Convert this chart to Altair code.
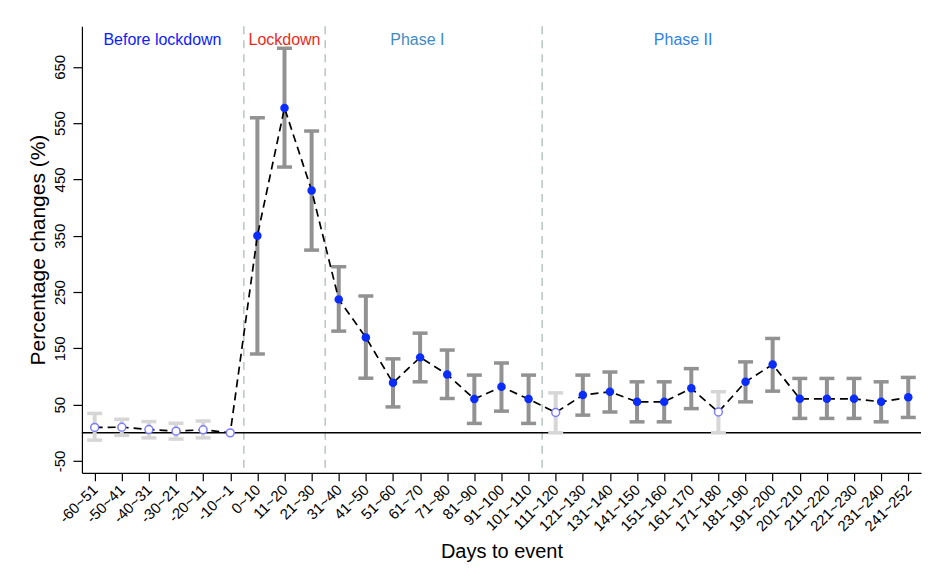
import json
import altair as alt
import pandas as pd

labels = ["-60~51", "-50~41", "-40~31", "-30~21", "-20~11", "-10~-1",
          "0~10", "11~20", "21~30", "31~40", "41~50", "51~60", "61~70",
          "71~80", "81~90", "91~100", "101~110", "111~120", "121~130",
          "131~140", "141~150", "151~160", "161~170", "171~180", "181~190",
          "191~200", "201~210", "211~220", "221~230", "231~240", "241~252"]
est = [9.6, 10, 6, 3, 5.4, 0,
       350, 577, 430.5,
       237, 169.4, 88.8, 134, 103.7, 60, 81.7, 60, 36,
       67, 73, 55, 55, 79, 37, 90.6, 121.5, 60.4, 60.4, 60.4, 55, 63]
lo = [-13, -4.6, -9, -11, -9, None,
      140, 472, 324.5,
      180.6, 97, 46, 90.6, 61, 16.7, 38.5, 16.7, 0,
      31.4, 37, 19.5, 19.5, 43, 0, 55, 74, 25.6, 25.6, 25.6, 19.5, 27.3]
hi = [34.4, 24, 20, 17, 21, None,
      559.5, 683, 536,
      295, 243, 131.4, 177, 147, 102.5, 124, 102.5, 71,
      102.5, 108, 90.6, 90.6, 114, 73, 126, 167.6, 96.6, 96.6, 96.6, 90.6, 98.4]
significant = [False] * 6 + [True] * 11 + [False] + [True] * 5 + [False] + [True] * 7

phase_bounds = [5.5, 8.5, 16.5]
phase_names = ["Before lockdown", "Lockdown", "Phase I", "Phase II"]
phase_pos = [2.5, 7.0, 11.9, 21.7]
phase_colors = ["#0b1cff", "#ec2a22", "#3f8cc0", "#2f82ea"]
y_ticks = [-50, 50, 150, 250, 350, 450, 550, 650]

df = pd.DataFrame({"idx": list(range(len(labels))), "label": labels,
                   "est": est, "lo": lo, "hi": hi, "sig": significant})
bounds_df = pd.DataFrame({"b": phase_bounds})
ann_df = pd.DataFrame({"name": phase_names, "pos": phase_pos,
                       "color": phase_colors, "yv": [697] * 4})

font = "Liberation Sans"
xscale = alt.Scale(domain=[-0.47, 30.47], nice=False, zero=False)
yscale = alt.Scale(domain=[-71, 722], nice=False, zero=False)

label_expr = json.dumps(labels) + "[datum.value]"
xaxis = alt.Axis(values=list(range(len(labels))), labelExpr=label_expr,
                 labelAngle=-45, labelAlign="right", labelBaseline="middle",
                 labelFontSize=15, labelFont=font, labelColor="black",
                 tickSize=8, tickColor="black", tickWidth=1.2,
                 domainColor="black", domainWidth=1.2, grid=False,
                 title="Days to event", titleFont=font, titleFontSize=20,
                 titleFontWeight="normal", titleColor="black", labelPadding=6,
                 labelOverlap=False, labelFlush=False, labelBound=False,
                 titlePadding=8)
yaxis = alt.Axis(values=y_ticks, labelExpr="'' + datum.value", labelAngle=-90,
                 labelAlign="center",
                 labelBaseline="bottom", labelFontSize=15, labelFont=font,
                 labelColor="black", tickSize=9, tickColor="black", tickWidth=1.2,
                 domainColor="black", domainWidth=1.2, grid=False,
                 title="Percentage changes (%)", titleFont=font, titleFontSize=21,
                 titleFontWeight="normal", titleColor="black", labelPadding=5,
                 labelOverlap=False, labelFlush=False)

X = lambda f: alt.X(f, scale=xscale, axis=xaxis)
Y = lambda f: alt.Y(f, scale=yscale, axis=yaxis)

base = alt.Chart(df)

vlines = alt.Chart(bounds_df).mark_rule(color="#b9c6c2", strokeWidth=1.5,
                                         strokeDash=[8, 6]).encode(
    x=X("b:Q"), y=alt.value(0), y2=alt.value(447))

zero = alt.Chart(pd.DataFrame({"z": [0]})).mark_rule(color="black", strokeWidth=1.5).encode(
    y=Y("z:Q"))

bars_base = base.transform_filter("isValid(datum.hi)")
ecolor = alt.condition("datum.sig", alt.value("#929292"), alt.value("#d6d6d6"))

ebars = bars_base.mark_rule(strokeWidth=4).encode(
    x=X("idx:Q"), y=Y("lo:Q"), y2="hi:Q", color=ecolor)
cap_hi = bars_base.mark_rule(strokeWidth=3.5, xOffset=-7.5, x2Offset=7.5).encode(
    x=X("idx:Q"), x2="idx:Q", y=Y("hi:Q"), color=ecolor)
cap_lo = bars_base.mark_rule(strokeWidth=3.5, xOffset=-7.5, x2Offset=7.5).encode(
    x=X("idx:Q"), x2="idx:Q", y=Y("lo:Q"), color=ecolor)

line = base.mark_line(color="black", strokeWidth=1.7, strokeDash=[8, 5]).encode(
    x=X("idx:Q"), y=Y("est:Q"))

pts_sig = base.transform_filter("datum.sig").mark_point(
    filled=True, shape="circle", size=72, color="#0a2cff", opacity=1).encode(
    x=X("idx:Q"), y=Y("est:Q"))
pts_ns = base.transform_filter("!datum.sig").mark_point(
    shape="circle", size=62, fill="white", stroke="#7d7dff", strokeWidth=1.5,
    opacity=1, fillOpacity=1).encode(
    x=X("idx:Q"), y=Y("est:Q"))

ann = alt.Chart(ann_df).mark_text(font=font, fontSize=16, baseline="middle",
                                  align="center").encode(
    x=X("pos:Q"), y=Y("yv:Q"),
    text="name:N", color=alt.Color("color:N", scale=None))

chart = alt.layer(vlines, zero, ebars, cap_hi, cap_lo, line, pts_sig, pts_ns, ann).properties(
    width=840, height=447,
    autosize=alt.AutoSizeParams(type="none"),
    padding={"left": 74, "top": 18, "right": 2, "bottom": 100},
    background="white",
).configure_view(stroke=None).configure_axisX(labelOverlap=False)

chart.save("out.html", embed_options={"renderer": "svg", "actions": False})
